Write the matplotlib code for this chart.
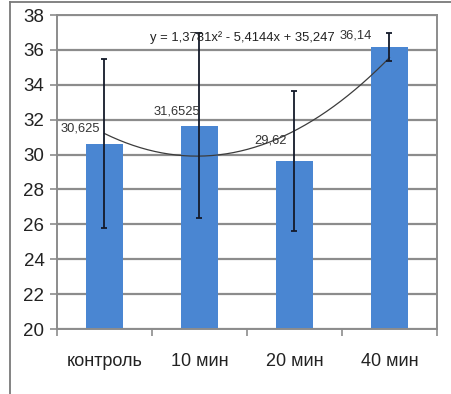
import numpy as np
import matplotlib.pyplot as plt
from matplotlib.lines import Line2D

plt.rcParams["font.family"] = ["Liberation Sans Narrow", "Liberation Sans", "DejaVu Sans"]

categories = ["контроль", "10 мин", "20 мин", "40 мин"]
values = [30.625, 31.6525, 29.62, 36.14]
errors = [4.85, 5.3, 4.0, 0.8]
labels = ["30,625", "31,6525", "29,62", "36,14"]
equation = "y = 1,3781x² - 5,4144x + 35,247"

# where each value label sits, relative to its bar (x in categories, y in units)
label_dx = [-0.05, 0.01, -0.08, -0.19]
label_dy = [0.85, 0.8, 1.2, 0.7]

BAR_COLOR = "#4a86d2"
GRID_COLOR = "#8c8c8c"

fig = plt.figure(figsize=(4.51, 3.94), dpi=100)
ax = fig.add_axes([57 / 451, 1 - 329 / 394, 380 / 451, 314 / 394])

pos = np.arange(len(categories))
ax.bar(pos, values, width=0.38, color=BAR_COLOR, zorder=2)
ax.errorbar(pos, values, yerr=errors, fmt="none", ecolor="#141a2a",
            elinewidth=1.3, capsize=2.5, capthick=1.3, zorder=4)

# polynomial trendline (order 2), x = 1..4 as in Excel
coef = np.polyfit(pos + 1, values, 2)
xs = np.linspace(1, len(categories), 200)
ax.plot(xs - 1, np.polyval(coef, xs), color="#3c3c3c", lw=0.9, zorder=3)

for p, v, lab, dx, dy in zip(pos, values, labels, label_dx, label_dy):
    ax.text(p + dx, v + dy, lab, ha="right", va="center",
            fontsize=9.3, color="#333333", zorder=5)

ax.text(1.45, 36.72, equation, ha="center", va="center", fontsize=9.4,
        color="#222222", zorder=5)

ax.set_xlim(-0.5, len(categories) - 0.5)
ax.set_ylim(20, 38)
ax.set_yticks(np.arange(20, 39, 2))
ax.yaxis.grid(True, color=GRID_COLOR, lw=1.6, zorder=1)
ax.set_axisbelow(True)

ax.set_xticks(pos)
ax.set_xticklabels(categories, fontsize=13, color="#222222")
ax.set_xticks(np.arange(-0.5, len(categories), 1), minor=True)
ax.tick_params(axis="x", which="major", length=0, pad=17)
ax.tick_params(axis="x", which="minor", length=5, width=1.2, color=GRID_COLOR)
ax.tick_params(axis="y", length=5, width=1.2, color=GRID_COLOR,
               labelsize=13.5, labelcolor="#222222", pad=4)

for s in ax.spines.values():
    s.set_color(GRID_COLOR)
    s.set_linewidth(1.4)

# outer frame lines (top and left)
fig.add_artist(Line2D([10 / 451, 1], [1 - 2 / 394] * 2, color="#7a7a7a", lw=1.3))
fig.add_artist(Line2D([10 / 451] * 2, [0, 1 - 2 / 394], color="#7a7a7a", lw=1.3))

fig.savefig("out.png", dpi=100)
